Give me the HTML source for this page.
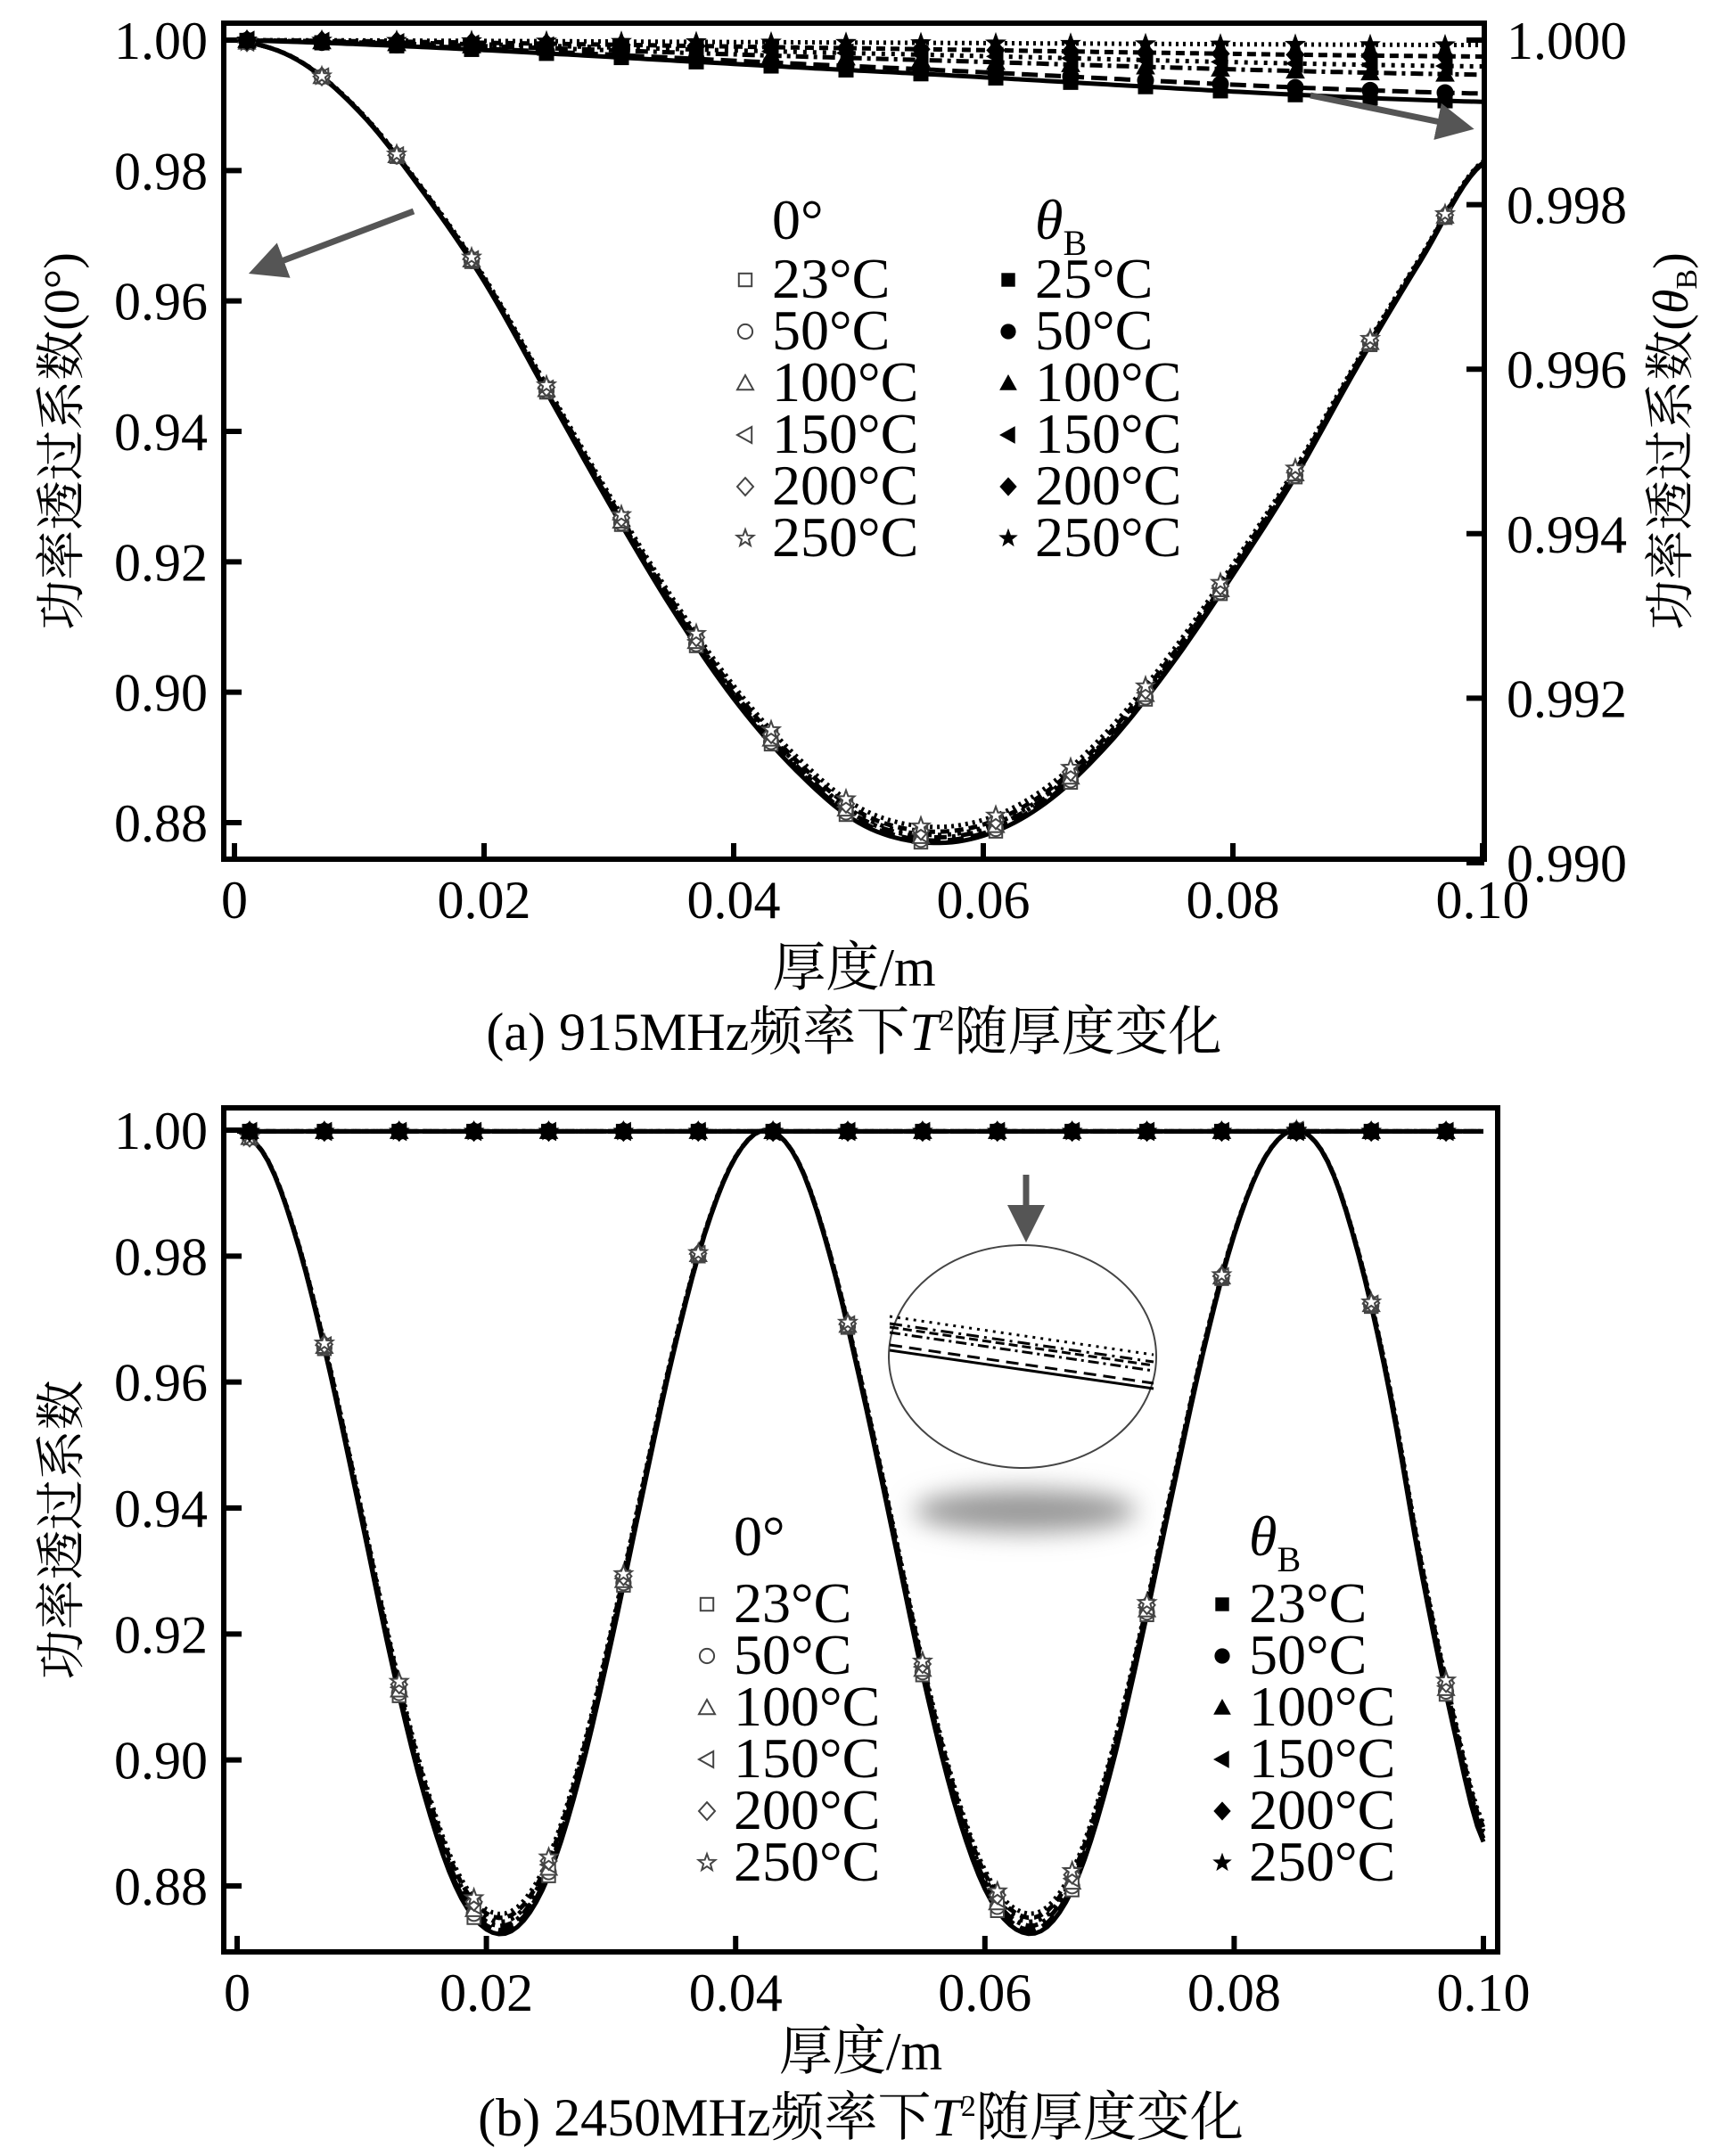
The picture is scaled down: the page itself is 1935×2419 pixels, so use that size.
<!DOCTYPE html>
<html><head><meta charset="utf-8">
<style>
html,body{margin:0;padding:0;background:#fff;}
svg{display:block;}
text{font-family:"Liberation Serif","Noto Serif CJK SC",serif;fill:#000;}
</style></head>
<body>
<svg id="fig" width="1935" height="2419" viewBox="0 0 1935 2419" xmlns="http://www.w3.org/2000/svg">
<defs>
<marker id="ah" markerWidth="6" markerHeight="6" refX="4" refY="3" orient="auto" markerUnits="strokeWidth"><path d="M0,0 L6,3 L0,6 z" fill="#555"/></marker>
<filter id="blur" x="-50%" y="-100%" width="200%" height="300%"><feGaussianBlur stdDeviation="14"/></filter>
</defs>
<g id="panelA"></g>
<g id="panelB"></g>
</svg>
<script>
// ---------- data ----------
const xTicks = [0, 0.02, 0.04, 0.06, 0.08, 0.10];
const xTickLabels = ["0", "0.02", "0.04", "0.06", "0.08", "0.10"];
const yTicksA = [0.88, 0.90, 0.92, 0.94, 0.96, 0.98, 1.00];
const yTickLabelsA = ["0.88", "0.90", "0.92", "0.94", "0.96", "0.98", "1.00"];
const yTicksRight = [0.990, 0.992, 0.994, 0.996, 0.998, 1.000];
const yTickLabelsRight = ["0.990", "0.992", "0.994", "0.996", "0.998", "1.000"];
const yTicksB = [0.88, 0.90, 0.92, 0.94, 0.96, 0.98, 1.00];
const yTickLabelsB = ["0.88", "0.90", "0.92", "0.94", "0.96", "0.98", "1.00"];
const temps0 = ["23°C", "50°C", "100°C", "150°C", "200°C", "250°C"];
const tempsBA = ["25°C", "50°C", "100°C", "150°C", "200°C", "250°C"];
const tempsBB = ["23°C", "50°C", "100°C", "150°C", "200°C", "250°C"];
const xA = [0,0.005,0.01,0.015,0.02,0.025,0.03,0.035,0.04,0.045,0.05,0.055,0.06,0.065,0.07,0.075,0.08,0.085,0.09,0.095,0.1];
const yA23 = [1.000,0.997,0.989,0.977,0.963,0.946,0.929,0.913,0.899,0.888,0.880,0.877,0.878,0.883,0.892,0.904,0.918,0.933,0.950,0.966,0.981];
const depthA = [1.000, 0.997, 0.993, 0.990, 0.986, 0.980];
const xAB = [0, 0.05, 0.1];
const yAB = [
  [1.0000, 0.99963, 0.99925],
  [1.0000, 0.99968, 0.99935],
  [1.0000, 0.99978, 0.99958],
  [1.0000, 0.99984, 0.99968],
  [1.0000, 0.99990, 0.99980],
  [1.0000, 0.99997, 0.99994]
];
const xB = [0,0.0025,0.005,0.0075,0.01,0.0125,0.015,0.0175,0.02,0.0225,0.025,0.0275,0.03,0.0325,0.035,0.0375,0.04,0.0425,0.045,0.0475,0.05,0.0525,0.055,0.0575,0.06,0.0625,0.065,0.0675,0.07,0.0725,0.075,0.0775,0.08,0.0825,0.085,0.0875,0.09,0.0925,0.095,0.0975,0.1];
const yB23 = [1.000,0.9950,0.9810,0.9610,0.9380,0.9145,0.8945,0.8800,0.8731,0.8735,0.8816,0.8974,0.9185,0.9419,0.9645,0.9833,0.9957,1.000,0.9950,0.9805,0.9600,0.9370,0.9135,0.8935,0.8795,0.8731,0.8735,0.8816,0.8974,0.9185,0.9419,0.9645,0.9833,0.9957,1.000,0.9950,0.9800,0.9580,0.9300,0.906,0.887];
const depthB = [1.000, 0.995, 0.990, 0.985, 0.980, 0.975];
const yBB = [0.9998, 0.9998, 0.9998, 0.9998, 0.9998, 0.9998];
const markerX = [0.001,0.007,0.013,0.019,0.025,0.031,0.037,0.043,0.049,0.055,0.061,0.067,0.073,0.079,0.085,0.091,0.097];
const dashes = ["", "18 8", "14 6 4 6", "4 7", "10 6", "3 5"];
const openShapes = ["square","circle","triangle","ltriangle","diamond","star"];

const NS = "http://www.w3.org/2000/svg";
function mk(parent, tag, attrs){
  const e = document.createElementNS(NS, tag);
  for (const k in attrs) e.setAttribute(k, attrs[k]);
  parent.appendChild(e);
  return e;
}
function interp(xs, ys, x){
  for (let i=0;i<xs.length-1;i++){
    if (x>=xs[i] && x<=xs[i+1]){
      const p0 = ys[Math.max(0,i-1)], p1 = ys[i], p2 = ys[i+1], p3 = ys[Math.min(ys.length-1,i+2)];
      const t = (x-xs[i])/(xs[i+1]-xs[i]);
      return 0.5*((2*p1)+(-p0+p2)*t+(2*p0-5*p1+4*p2-p3)*t*t+(-p0+3*p1-3*p2+p3)*t*t*t);
    }
  }
  return ys[ys.length-1];
}
function smoothPath(xs, ys, sx, sy){
  let d = "";
  const n = 200;
  for (let i=0;i<=n;i++){
    const x = xs[0] + (xs[xs.length-1]-xs[0])*i/n;
    const y = interp(xs, ys, x);
    d += (i?"L":"M") + sx(x).toFixed(1) + "," + sy(y).toFixed(1);
  }
  return d;
}
function marker(g, shape, cx, cy, filled, r){
  const st = filled ? {fill:"#000", stroke:"#000", "stroke-width":1} : {fill:"#fff", stroke:"#444", "stroke-width":2};
  let e;
  if (shape==="square") e = mk(g,"rect",Object.assign({x:cx-r*0.8,y:cy-r*0.8,width:r*1.6,height:r*1.6},st));
  else if (shape==="circle") e = mk(g,"circle",Object.assign({cx:cx,cy:cy,r:r*0.9},st));
  else if (shape==="triangle") e = mk(g,"polygon",Object.assign({points:`${cx},${cy-r} ${cx-r},${cy+r*0.8} ${cx+r},${cy+r*0.8}`},st));
  else if (shape==="ltriangle") e = mk(g,"polygon",Object.assign({points:`${cx-r},${cy} ${cx+r*0.8},${cy-r} ${cx+r*0.8},${cy+r}`},st));
  else if (shape==="diamond") e = mk(g,"polygon",Object.assign({points:`${cx},${cy-r*1.1} ${cx+r},${cy} ${cx},${cy+r*1.1} ${cx-r},${cy}`},st));
  else {
    let pts=[];
    for(let k=0;k<10;k++){const a=-Math.PI/2+k*Math.PI/5;const rr=k%2?r*0.45:r*1.1;pts.push((cx+rr*Math.cos(a)).toFixed(1)+","+(cy+rr*Math.sin(a)).toFixed(1));}
    e = mk(g,"polygon",Object.assign({points:pts.join(" ")},st));
  }
  return e;
}
function txt(g, x, y, s, size, anchor, extra){
  const t = mk(g,"text",Object.assign({x:x,y:y,"font-size":size,"text-anchor":anchor||"start"},extra||{}));
  t.textContent = s;
  return t;
}

function drawPanel(g, cfg){
  const sx = x => cfg.x0 + (x-0)/(0.1)*(cfg.x1-cfg.x0);
  const sy = y => cfg.yTop + (cfg.yMax-y)/(cfg.yMax-cfg.yMin)*(cfg.yBot-cfg.yTop);
  const frame = mk(g,"rect",{x:cfg.L,y:cfg.T,width:cfg.R-cfg.L,height:cfg.B-cfg.T,fill:"none",stroke:"#000","stroke-width":6});
  
  
  const xt = mk(g,"g",{});
  
  
  xTicks.forEach((v,i)=>{
    mk(xt,"line",{x1:sx(v),x2:sx(v),y1:cfg.B,y2:cfg.B-18,stroke:"#000","stroke-width":6});
    txt(xt, sx(v), cfg.B+66, xTickLabels[i], 60, "middle");
  });
  const yt = mk(g,"g",{});
  
  
  cfg.yTicks.forEach((v,i)=>{
    mk(yt,"line",{x1:cfg.L,x2:cfg.L+20,y1:sy(v),y2:sy(v),stroke:"#000","stroke-width":6});
    txt(yt, cfg.L-18, sy(v)+21, cfg.yTickLabels[i], 60, "end");
  });
  const curves = mk(g,"g",{});
  
  
  for (let s=0;s<6;s++){
    const ys = cfg.y0.map(v => 1-(1-v)*cfg.depth[s]);
    const p = mk(curves,"path",{d:smoothPath(cfg.xs, ys, sx, sy),fill:"none",stroke:"#000","stroke-width":5,"stroke-dasharray":dashes[s]});
    
    
  }
  const tb = mk(g,"g",{});
  
  
  for (let s=0;s<6;s++){
    const p = mk(tb,"path",{d:smoothPath(cfg.bxs, cfg.bys[s], sx, cfg.bsy),fill:"none",stroke:"#000","stroke-width":5,"stroke-dasharray":dashes[s]});
    
    
  }
  const mg = mk(g,"g",{});
  
  
  markerX.forEach(mx=>{
    for (let s=0;s<6;s++){
      const ys = cfg.y0.map(v => 1-(1-v)*cfg.depth[s]);
      const m = marker(mg, openShapes[s], sx(mx), sy(interp(cfg.xs, ys, mx)), false, 9);
      
      
    }
    for (let s=0;s<6;s++){
      const m = marker(mg, openShapes[s], sx(mx), cfg.bsy(interp(cfg.bxs, cfg.bys[s], mx)), true, 10);
      
      
    }
  });
  const xtitle = txt(g, (cfg.L+cfg.R)/2, cfg.B+cfg.xtOff, "厚度/m", 60, "middle");
  
  
  const ytitle = txt(g, 0, 0, cfg.yTitle, 56, "middle", {transform:`translate(${cfg.yTitleX},${(cfg.T+cfg.B)/2}) rotate(-90)`});
  
  
  const cap = mk(g,"text",{x:(cfg.L+cfg.R)/2,y:cfg.B+cfg.capOff,"font-size":60,"text-anchor":"middle"});
  
  
  cap.innerHTML = cfg.caption;
  const lg = mk(g,"g",{});
  
  
  txt(lg, cfg.lg.c1, cfg.lg.hy, "0°", 64, "start");
  const th = mk(lg,"text",{x:cfg.lg.c2,y:cfg.lg.hy,"font-size":64});
  th.innerHTML = '<tspan font-style="italic">θ</tspan><tspan font-size="40" dy="18">B</tspan>';
  for (let s=0;s<6;s++){
    const yy = cfg.lg.y0 + s*cfg.lg.dy;
    const e1 = mk(lg,"g",{});
    
    
    marker(e1, openShapes[s], cfg.lg.c1-30, yy-20, false, 9);
    txt(e1, cfg.lg.c1, yy, temps0[s], 64, "start");
    const e2 = mk(lg,"g",{});
    
    
    marker(e2, openShapes[s], cfg.lg.c2-30, yy-20, true, 9);
    txt(e2, cfg.lg.c2, yy, cfg.bTemps[s], 64, "start");
  }
  return {sx, sy};
}

const gA = document.getElementById("panelA");
const rsy = y => 45 + (1.000-y)/(0.010)*(968-45);
drawPanel(gA, {
  L:251, R:1665, T:26, B:964, x0:263, x1:1663, yTop:45, yBot:923, yMax:1.00, yMin:0.88,
  yTicks:yTicksA, yTickLabels:yTickLabelsA, xs:xA, y0:yA23, depth:depthA,
  bxs:xAB, bys:yAB, bsy:rsy, bTemps:tempsBA,
  yTitle:"功率透过系数(0°)", yTitleX:88, xtOff:142, capOff:214,
  caption:'(a) 915MHz频率下<tspan font-style="italic">T</tspan><tspan font-size="34" dy="-22">2</tspan><tspan dy="22">随厚度变化</tspan>',
  lg:{c1:866, c2:1161, hy:268, y0:334, dy:58}
});
const ra = mk(gA,"g",{});


yTicksRight.forEach((v,i)=>{
  mk(ra,"line",{x1:1665,x2:1645,y1:rsy(v),y2:rsy(v),stroke:"#000","stroke-width":6});
  txt(ra, 1690, rsy(v)+21, yTickLabelsRight[i], 60, "start");
});
const rt = mk(ra,"text",{"font-size":56,"text-anchor":"middle",transform:"translate(1893,495) rotate(-90)"});


rt.innerHTML = '功率透过系数(<tspan font-style="italic">θ</tspan><tspan font-size="34" dy="10">B</tspan><tspan dy="-10">)</tspan>';
const a1 = mk(gA,"line",{x1:464,y1:237,x2:292,y2:302,stroke:"#555","stroke-width":7,"marker-end":"url(#ah)"});


const a2 = mk(gA,"line",{x1:1470,y1:107,x2:1640,y2:142,stroke:"#555","stroke-width":7,"marker-end":"url(#ah)"});



const gB = document.getElementById("panelB");
const bsyB = y => 1268 + (1.00-y)/(0.12)*(2116-1268);
drawPanel(gB, {
  L:251, R:1680, T:1243, B:2190, x0:266, x1:1664, yTop:1268, yBot:2116, yMax:1.00, yMin:0.88,
  yTicks:yTicksB, yTickLabels:yTickLabelsB, xs:xB, y0:yB23, depth:depthB,
  bxs:[0,0.1], bys:yBB.map(v=>[v,v]), bsy:bsyB, bTemps:tempsBB,
  yTitle:"功率透过系数", yTitleX:88, xtOff:132, capOff:206,
  caption:'(b) 2450MHz频率下<tspan font-style="italic">T</tspan><tspan font-size="34" dy="-22">2</tspan><tspan dy="22">随厚度变化</tspan>',
  lg:{c1:823, c2:1401, hy:1745, y0:1820, dy:58}
});
const ins = mk(gB,"g",{});


mk(ins,"ellipse",{cx:1150,cy:1695,rx:125,ry:24,fill:"#999",filter:"url(#blur)"});
mk(ins,"ellipse",{cx:1147,cy:1522,rx:150,ry:125,fill:"#fff",stroke:"#444","stroke-width":2});
const insetOff = [0, 6, 20, 26, 30, 38];
const insetDash = ["", "14 8", "12 5 3 5", "10 5", "14 6 3 6", "3 6"];
for (let s=0;s<6;s++){
  const o = insetOff[s];
  mk(ins,"line",{x1:998,y1:1515-o,x2:1294,y2:1558-o,stroke:"#000","stroke-width":3,"stroke-dasharray":insetDash[s]});
}
const a3 = mk(gB,"line",{x1:1151,y1:1318,x2:1151,y2:1380,stroke:"#555","stroke-width":7,"marker-end":"url(#ah)"});


</script>
</body></html>
